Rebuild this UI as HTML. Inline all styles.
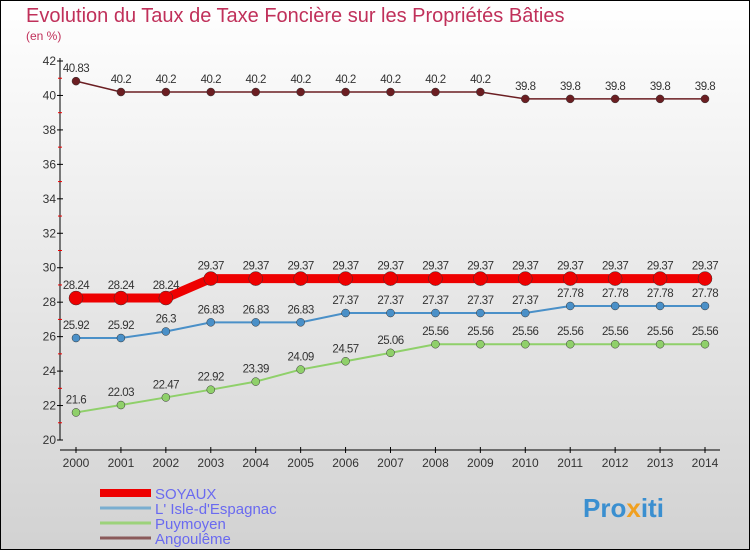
<!DOCTYPE html>
<html><head><meta charset="utf-8"><style>
body{margin:0}
svg{display:block;font-family:"Liberation Sans",sans-serif}
</style></head><body>
<svg id="c" width="750" height="550" xmlns="http://www.w3.org/2000/svg">
<defs><linearGradient id="bg" x1="0" y1="0" x2="0" y2="1"><stop offset="0" stop-color="#ffffff"/><stop offset="1" stop-color="#d2d2d2"/></linearGradient></defs>
<rect x="0.5" y="0.5" width="749" height="549" fill="url(#bg)" stroke="#000"/>
<text x="26" y="22" font-size="20" fill="#c0305a">Evolution du Taux de Taxe Foncière sur les Propriétés Bâties</text>
<text x="26" y="40" font-size="12" fill="#c0305a">(en %)</text>
<g id="axes"></g><g id="series"></g><g id="legend"></g>
<text x="583" y="517" font-size="26" font-weight="bold" fill="#3a8fd0">Pro<tspan fill="#f0a020">x</tspan>iti</text>
</svg>
<script>
const years=[2000,2001,2002,2003,2004,2005,2006,2007,2008,2009,2010,2011,2012,2013,2014];
const yTicks=[20,22,24,26,28,30,32,34,36,38,40,42];
const soyaux=[28.24,28.24,28.24,29.37,29.37,29.37,29.37,29.37,29.37,29.37,29.37,29.37,29.37,29.37,29.37];
const isle=[25.92,25.92,26.3,26.83,26.83,26.83,27.37,27.37,27.37,27.37,27.37,27.78,27.78,27.78,27.78];
const puymoyen=[21.6,22.03,22.47,22.92,23.39,24.09,24.57,25.06,25.56,25.56,25.56,25.56,25.56,25.56,25.56];
const angouleme=[40.83,40.2,40.2,40.2,40.2,40.2,40.2,40.2,40.2,40.2,39.8,39.8,39.8,39.8,39.8];
const NS="http://www.w3.org/2000/svg";
const X=i=>76+i*(705-76)/(years.length-1);
const Y=v=>440-(v-20)*(440-61)/22;
function mk(p,t,a){const e=document.createElementNS(NS,t);for(const k in a)e.setAttribute(k,a[k]);p.appendChild(e);return e;}
const ax=document.getElementById('axes');
let l=mk(ax,'line',{x1:60,y1:58,x2:60,y2:440,stroke:'#000'});


l=mk(ax,'line',{x1:60,y1:450,x2:720,y2:450,stroke:'#000'});


yTicks.forEach(v=>{
 mk(ax,'line',{x1:57,y1:Y(v),x2:63,y2:Y(v),stroke:'#000'});
 if(v<42){mk(ax,'line',{x1:58,y1:Y(v+1),x2:62,y2:Y(v+1),stroke:'#e00'});}
 const t=mk(ax,'text',{x:56,y:Y(v)+4,'font-size':12,'text-anchor':'end',fill:'#333'});t.textContent=v;
 
 
});
years.forEach((y,i)=>{
 mk(ax,'line',{x1:X(i),y1:447,x2:X(i),y2:453,stroke:'#000'});
 const t=mk(ax,'text',{x:X(i),y:467,'font-size':12,'text-anchor':'middle',fill:'#333'});t.textContent=y;
 
 
});
const sg=document.getElementById('series');
function series(vals,color,w,r,name){
 const g=mk(sg,'g',{});
 
 
 mk(g,'polyline',{points:vals.map((v,i)=>X(i)+','+Y(v)).join(' '),fill:'none',stroke:color,'stroke-width':w});
 vals.forEach((v,i)=>{
  const c=mk(g,'circle',{cx:X(i),cy:Y(v),r:r,fill:color,stroke:'#333','stroke-width':0.5});
  
  
  const t=mk(g,'text',{x:X(i),y:Y(v)-9,'font-size':11.5,'text-anchor':'middle',fill:'#333','letter-spacing':'-0.5'});t.textContent=v;
  
  
 });
}
series(angouleme,'#6b1e22',1.5,4,'angouleme');
series(puymoyen,'#8fd06a',2,4,'puymoyen');
series(isle,'#4a90c8',2,4,'isle-espagnac');
series(soyaux,'#ee0000',9,7,'soyaux');
const lg=document.getElementById('legend');
[['SOYAUX','#ee0000',8],["L' Isle-d'Espagnac",'#7aaed0',3],['Puymoyen','#9cd27a',3],['Angoulême','#8a5a5a',3]].forEach((d,i)=>{
 const y=493+i*15;
 const g=mk(lg,'g',{});
 
 
 mk(g,'line',{x1:100,y1:y,x2:151,y2:y,stroke:d[1],'stroke-width':d[2]});
 const t=mk(g,'text',{x:155,y:y+6,'font-size':15,fill:'#6a6af0'});t.textContent=d[0];
});
</script>
</body></html>
